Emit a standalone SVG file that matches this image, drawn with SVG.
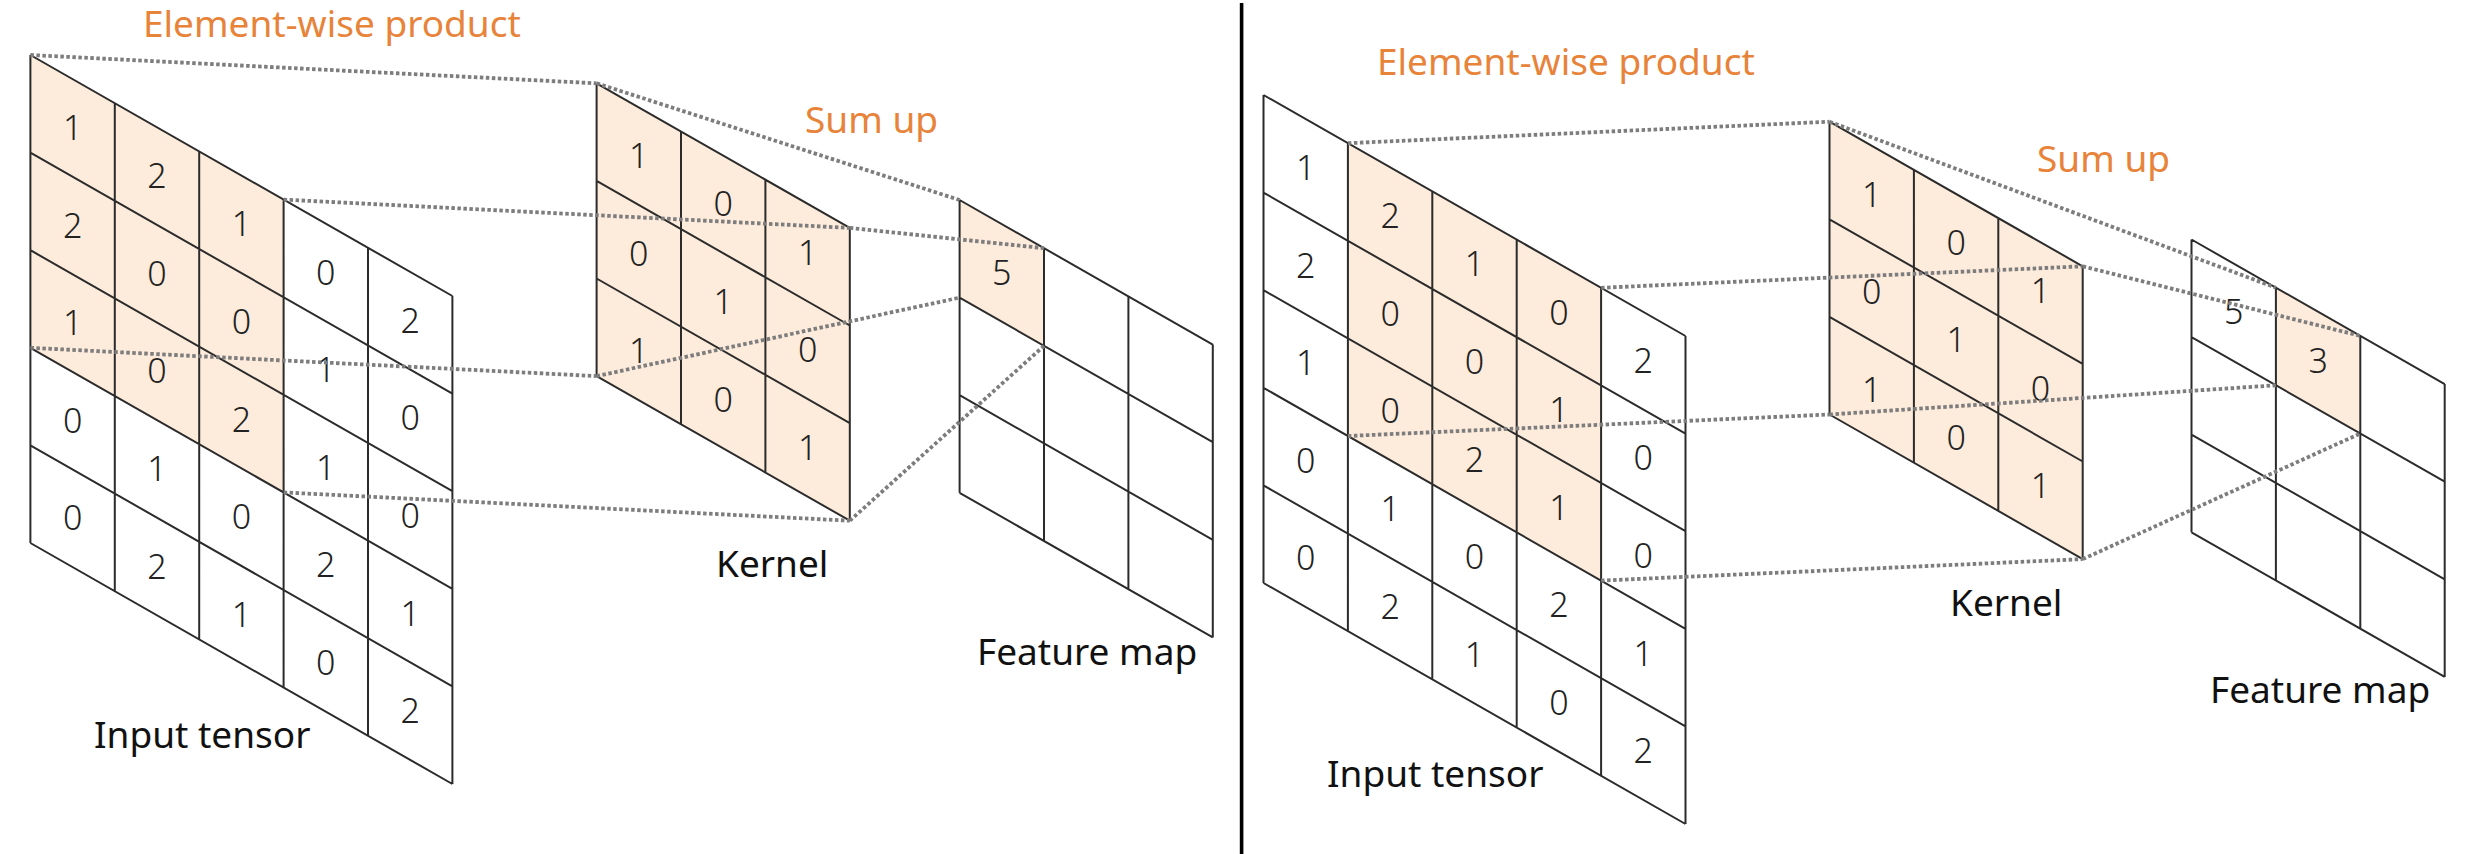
<svg xmlns="http://www.w3.org/2000/svg" width="2492" height="854" viewBox="0 0 2492 854">
<style>
.grid{fill:none;stroke:#2b2b2b;stroke-width:2;stroke-linejoin:miter}
.hl{fill:#fdebdc;stroke:none}
.num{font-family:"Noto Sans","DejaVu Sans",sans-serif;font-size:34px;font-weight:300;fill:#222;text-anchor:middle}
.lbl{font-family:"Noto Sans","DejaVu Sans",sans-serif;font-size:37px;fill:#111}
.ttl{font-family:"Noto Sans","DejaVu Sans",sans-serif;font-size:37px;fill:#e8833a}
.dot{fill:none;stroke:#7d7d7d;stroke-width:3.8;stroke-dasharray:3.5 2.5}
</style>
<defs>
<path id="g5" d="M0 0V488M84.4 48.2V536.2M168.8 96.4V584.4M253.2 144.6V632.6M337.6 192.8V680.8M422 241V729M0 0L422 241M0 97.6L422 338.6M0 195.2L422 436.2M0 292.8L422 533.8M0 390.4L422 631.4M0 488L422 729"/>
<path id="g3" d="M0 0V292.8M84.4 48.2V341M168.8 96.4V389.2M253.2 144.6V437.4M0 0L253.2 144.6M0 97.6L253.2 242.2M0 195.2L253.2 339.8M0 292.8L253.2 437.4"/>
<g id="inputNums">
<text class="num" x="42.2" y="84.9">1</text><text class="num" x="126.6" y="133.1">2</text><text class="num" x="211" y="181.3">1</text><text class="num" x="295.4" y="229.5">0</text><text class="num" x="379.8" y="277.7">2</text>
<text class="num" x="42.2" y="182.5">2</text><text class="num" x="126.6" y="230.7">0</text><text class="num" x="211" y="278.9">0</text><text class="num" x="295.4" y="327.1">1</text><text class="num" x="379.8" y="375.3">0</text>
<text class="num" x="42.2" y="280.1">1</text><text class="num" x="126.6" y="328.3">0</text><text class="num" x="211" y="376.5">2</text><text class="num" x="295.4" y="424.7">1</text><text class="num" x="379.8" y="472.9">0</text>
<text class="num" x="42.2" y="377.7">0</text><text class="num" x="126.6" y="425.9">1</text><text class="num" x="211" y="474.1">0</text><text class="num" x="295.4" y="522.3">2</text><text class="num" x="379.8" y="570.5">1</text>
<text class="num" x="42.2" y="475.3">0</text><text class="num" x="126.6" y="523.5">2</text><text class="num" x="211" y="571.7">1</text><text class="num" x="295.4" y="619.9">0</text><text class="num" x="379.8" y="668.1">2</text>
</g>
<g id="kernelNums">
<text class="num" x="42.2" y="84.9">1</text><text class="num" x="126.6" y="133.1">0</text><text class="num" x="211" y="181.3">1</text>
<text class="num" x="42.2" y="182.5">0</text><text class="num" x="126.6" y="230.7">1</text><text class="num" x="211" y="278.9">0</text>
<text class="num" x="42.2" y="280.1">1</text><text class="num" x="126.6" y="328.3">0</text><text class="num" x="211" y="376.5">1</text>
</g>
</defs>
<rect width="2492" height="854" fill="#fff"/>

<!-- Left panel -->
<g id="left-input" transform="translate(30.4,55)">
<polygon class="hl" points="0,0 253.2,144.6 253.2,437.4 0,292.8"/>
<use href="#g5" class="grid"/>
<use href="#inputNums"/>
</g>
<g id="left-kernel" transform="translate(596.6,83.3)">
<polygon class="hl" points="0,0 253.2,144.6 253.2,437.4 0,292.8"/>
<use href="#g3" class="grid"/>
<use href="#kernelNums"/>
</g>
<g id="left-feature" transform="translate(959.6,200)">
<polygon class="hl" points="0,0 84.4,48.2 84.4,145.8 0,97.6"/>
<use href="#g3" class="grid"/>
<text class="num" x="42.2" y="84.9">5</text>
</g>
<g id="left-labels">
<text class="ttl" x="143" y="37">Element-wise product</text>
<text class="ttl" x="805" y="133">Sum up</text>
<text class="lbl" x="94" y="748">Input tensor</text>
<text class="lbl" x="716" y="577">Kernel</text>
<text class="lbl" x="977" y="665">Feature map</text>
</g>

<!-- Divider -->
<rect id="divider" x="1239.8" y="3" width="3.6" height="851" fill="#000"/>

<!-- Right panel -->
<g id="right-input" transform="translate(1263.5,95)">
<polygon class="hl" points="84.4,48.2 337.6,192.8 337.6,485.6 84.4,341"/>
<use href="#g5" class="grid"/>
<use href="#inputNums"/>
</g>
<g id="right-kernel" transform="translate(1829.5,121.7)">
<polygon class="hl" points="0,0 253.2,144.6 253.2,437.4 0,292.8"/>
<use href="#g3" class="grid"/>
<use href="#kernelNums"/>
</g>
<g id="right-feature" transform="translate(2191.5,239.5)">
<polygon class="hl" points="84.4,48.2 168.8,96.4 168.8,194 84.4,145.8"/>
<use href="#g3" class="grid"/>
<text class="num" x="42.2" y="84.9">5</text>
<text class="num" x="126.6" y="133.1">3</text>
</g>
<g id="right-labels">
<text class="ttl" x="1377" y="75">Element-wise product</text>
<text class="ttl" x="2037" y="171.5">Sum up</text>
<text class="lbl" x="1327" y="787">Input tensor</text>
<text class="lbl" x="1950" y="616">Kernel</text>
<text class="lbl" x="2210" y="703">Feature map</text>
</g>

<!-- Connectors -->
<g id="connectors" class="dot">
<line x1="30.4" y1="55" x2="596.6" y2="83.3"/>
<line x1="283.6" y1="199.6" x2="849.8" y2="227.9"/>
<line x1="30.4" y1="347.8" x2="596.6" y2="376.1"/>
<line x1="283.6" y1="492.4" x2="849.8" y2="520.7"/>
<line x1="596.6" y1="83.3" x2="959.6" y2="200"/>
<line x1="849.8" y1="227.9" x2="1044" y2="248.2"/>
<line x1="596.6" y1="376.1" x2="959.6" y2="297.6"/>
<line x1="849.8" y1="520.7" x2="1044" y2="345.8"/>
<line x1="1347.9" y1="143.2" x2="1829.5" y2="121.7"/>
<line x1="1601.1" y1="287.8" x2="2082.7" y2="266.3"/>
<line x1="1347.9" y1="436" x2="1829.5" y2="414.5"/>
<line x1="1601.1" y1="580.6" x2="2082.7" y2="559.1"/>
<line x1="1829.5" y1="121.7" x2="2275.9" y2="287.7"/>
<line x1="2082.7" y1="266.3" x2="2360.3" y2="335.9"/>
<line x1="1829.5" y1="414.5" x2="2275.9" y2="385.3"/>
<line x1="2082.7" y1="559.1" x2="2360.3" y2="433.5"/>
</g>
</svg>
